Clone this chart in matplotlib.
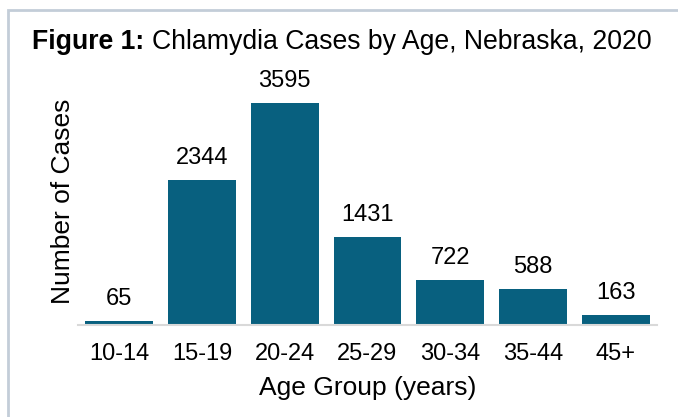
import matplotlib.pyplot as plt
from matplotlib.patches import Rectangle

plt.rcParams['font.family'] = ['Liberation Sans', 'DejaVu Sans']

age_groups = ['10-14', '15-19', '20-24', '25-29', '30-34', '35-44', '45+']
cases = [65, 2344, 3595, 1431, 722, 588, 163]

bar_color = '#08607f'

fig = plt.figure(figsize=(6.78, 4.17), dpi=100)
ax = fig.add_axes([0.115, 0.2206, 0.854, 0.5923])

# light frame around the whole figure panel
fig.patches.append(Rectangle((7.5 / 678, -0.1), 2, 1.1 - 9.5 / 417, transform=fig.transFigure,
                             fill=False, edgecolor='#c3cdd8', linewidth=2))

x = range(len(age_groups))
bars = ax.bar(x, cases, width=0.82, color=bar_color)
for b, v in zip(bars, cases):
    ax.annotate(str(v), (b.get_x() + b.get_width() / 2, v), xytext=(0, 11.5),
                textcoords='offset points', ha='center', va='baseline', fontsize=17)

ax.set_xlim(-0.5, 6.5)
ax.set_ylim(0, 4000)
ax.set_xticks(list(x))
ax.set_xticklabels(age_groups, fontsize=17)
ax.tick_params(axis='x', length=0, pad=13)
ax.set_yticks([])
for side in ['top', 'right', 'left']:
    ax.spines[side].set_visible(False)
ax.spines['bottom'].set_color('#d9d9d9')
ax.spines['bottom'].set_linewidth(1.5)

ax.set_xlabel('Age Group (years)', fontsize=19, labelpad=8)
ax.set_ylabel('Number of Cases', fontsize=19, labelpad=2)

ty = 1 - 49.3 / 417
fig.text(32 / 678, ty, 'Figure 1:', fontsize=19.2, fontweight='bold', ha='left', va='baseline')
fig.text(152 / 678, ty, 'Chlamydia Cases by Age, Nebraska, 2020', fontsize=19.2, ha='left', va='baseline')

fig.savefig('out.png', dpi=100)
